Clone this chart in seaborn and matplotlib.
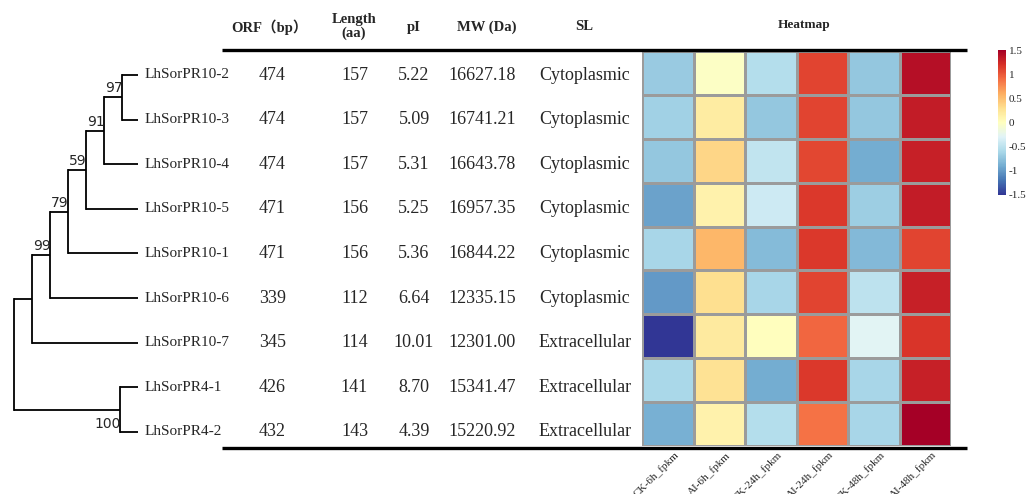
import numpy as np
import pandas as pd
import matplotlib
matplotlib.use("Agg")
import matplotlib.pyplot as plt
import seaborn as sns

# ---------------- data ----------------
genes = ['LhSorPR10-2', 'LhSorPR10-3', 'LhSorPR10-4', 'LhSorPR10-5', 'LhSorPR10-1',
         'LhSorPR10-6', 'LhSorPR10-7', 'LhSorPR4-1', 'LhSorPR4-2']
orf_bp = [474, 474, 474, 471, 471, 339, 345, 426, 432]
length_aa = [157, 157, 157, 156, 156, 112, 114, 141, 143]
pi_vals = [5.22, 5.09, 5.31, 5.25, 5.36, 6.64, 10.01, 8.70, 4.39]
mw_da = [16627.18, 16741.21, 16643.78, 16957.35, 16844.22, 12335.15, 12301.00, 15341.47, 15220.92]
sl = ['Cytoplasmic', 'Cytoplasmic', 'Cytoplasmic', 'Cytoplasmic', 'Cytoplasmic',
      'Cytoplasmic', 'Extracellular', 'Extracellular', 'Extracellular']
conditions = ['CK-6h_fpkm', 'AI-6h_fpkm', 'CK-24h_fpkm', 'AI-24h_fpkm', 'CK-48h_fpkm', 'AI-48h_fpkm']
ck_6h = [-0.70, -0.65, -0.72, -0.95, -0.62, -1.00, -1.50, -0.60, -0.87]
ai_6h = [-0.03, 0.18, 0.36, 0.12, 0.55, 0.30, 0.20, 0.27, 0.12]
ck_24h = [-0.55, -0.72, -0.48, -0.40, -0.80, -0.62, 0.00, -0.90, -0.55]
ai_24h = [1.10, 1.10, 1.08, 1.15, 1.15, 1.10, 0.93, 1.15, 0.87]
ck_48h = [-0.72, -0.72, -0.90, -0.67, -0.82, -0.50, -0.27, -0.62, -0.62]
ai_48h = [1.40, 1.32, 1.30, 1.32, 1.10, 1.30, 1.18, 1.30, 1.50]
cbar_ticks = [1.5, 1, 0.5, 0, -0.5, -1, -1.5]
headers = ['ORF（bp）', 'Length\n(aa)', 'pI', 'MW (Da)', 'SL']


def N(children, bl, sup=None):
    return {'c': children, 'bl': bl, 'sup': sup}


# phylogeny: nested clades with branch lengths (tree units) and bootstrap support
tree = N([
    N([
        N([
            N([
                N([
                    N([
                        N(['LhSorPR10-2', 'LhSorPR10-3'], 1.0, 97),
                        'LhSorPR10-4'], 1.0, 91),
                    'LhSorPR10-5'], 1.0, 59),
                'LhSorPR10-1'], 1.0, 79),
            'LhSorPR10-6'], 1.0, 99),
        'LhSorPR10-7'], 1.0),
    N(['LhSorPR4-1', 'LhSorPR4-2'], 5.9, 100),
], 0.0)
tip_depth = 6.9

# ---------------- layout ----------------
W, H = 1027, 494
SERIF = 'Liberation Serif'
sns.set_theme(style='white')
plt.rcParams['font.family'] = [SERIF, 'DejaVu Sans']

fig = plt.figure(figsize=(W / 100, H / 100), dpi=100)


def rect(x0, y0, x1, y1):
    return [x0 / W, 1 - y1 / H, (x1 - x0) / W, (y1 - y0) / H]


hm = pd.DataFrame({c: v for c, v in zip(conditions, [ck_6h, ai_6h, ck_24h, ai_24h, ck_48h, ai_48h])},
                  index=genes)

ax_hm = fig.add_axes(rect(642, 51, 951, 446))
cax = fig.add_axes(rect(998, 50, 1006, 195))
sns.heatmap(hm, ax=ax_hm, cbar_ax=cax, cmap='RdYlBu_r', vmin=-1.5, vmax=1.5,
            linewidths=1.0, linecolor='#9b9b9b', yticklabels=False)
ax_hm.set_xticks(np.arange(len(conditions)) + 0.62)
ax_hm.set_xticklabels(conditions, rotation=45, ha='right', rotation_mode='anchor',
                      fontsize=8, family=SERIF)
ax_hm.tick_params(axis='x', length=0, pad=3)
ax_hm.set_xlabel('')
ax_hm.set_ylabel('')

cax.set_yticks(cbar_ticks)
cax.set_yticklabels([f'{t:g}' for t in cbar_ticks], fontsize=8, family=SERIF)
cax.tick_params(axis='y', length=0, pad=2)
for s in cax.spines.values():
    s.set_visible(False)
cb = ax_hm.collections[0].colorbar
if cb is not None:
    cb.outline.set_visible(False)

# overlay axis in pixel coordinates
ov = fig.add_axes([0, 0, 1, 1], facecolor='none')
ov.set_xlim(0, W)
ov.set_ylim(H, 0)
ov.axis('off')

row0, row_h = 75.0, 44.6
ypos = {g: row0 + i * row_h for i, g in enumerate(genes)}

# table rules
ov.plot([222, 967], [50, 50], color='black', lw=2.4, solid_capstyle='butt')
ov.plot([222, 967], [447.5, 447.5], color='black', lw=2.4, solid_capstyle='butt')

# headers
hx = [270, 354, 414, 487, 584]
for x, t in zip(hx, headers):
    fam = [SERIF, 'Noto Sans CJK SC'] if '（' in t else SERIF
    ov.text(x, 27, t, ha='center', va='center', fontsize=10.5, fontweight='bold',
            family=fam, linespacing=1.05)
ov.text(804, 25, 'Heatmap', ha='center', va='center', fontsize=9.5, fontweight='bold', family=SERIF)

# table body
cx = [272.5, 354.5, 414, 482, 585]
for i, g in enumerate(genes):
    y = ypos[g]
    vals = [str(orf_bp[i]), str(length_aa[i]), f'{pi_vals[i]:.2f}', f'{mw_da[i]:.2f}', sl[i]]
    for x, v in zip(cx, vals):
        ov.text(x, y, v, ha='center', va='center', fontsize=13, family=SERIF)

# tree
x_root, step = 14.0, 18.0
tip_x = x_root + tip_depth * step
lw_tree = 1.3


def draw(node, depth, is_last):
    x = x_root + depth * step
    if isinstance(node, str):
        return ypos[node]
    ys = []
    for k, ch in enumerate(node['c']):
        if isinstance(ch, str):
            cy = ypos[ch]
            ov.plot([x, tip_x], [cy, cy], color='black', lw=lw_tree, solid_capstyle='butt')
            ov.text(tip_x + 6, cy, ch, ha='left', va='center', fontsize=11, family=SERIF)
        else:
            cdepth = depth + ch['bl']
            cy = draw(ch, cdepth, k == len(node['c']) - 1)
            ov.plot([x, x_root + cdepth * step], [cy, cy], color='black', lw=lw_tree,
                    solid_capstyle='butt')
        ys.append(cy)
    ov.plot([x, x], [min(ys), max(ys)], color='black', lw=lw_tree, solid_capstyle='projecting')
    ymid = (min(ys) + max(ys)) / 2
    if node['sup'] is not None:
        if is_last:
            ov.text(x + 1, ymid + 7, str(node['sup']), ha='right', va='top',
                    fontsize=10, family='DejaVu Sans')
        else:
            ov.text(x + 1, ymid - 2, str(node['sup']), ha='right', va='bottom',
                    fontsize=10, family='DejaVu Sans')
    return ymid


draw(tree, 0.0, False)

fig.savefig('out.png', dpi=100)
